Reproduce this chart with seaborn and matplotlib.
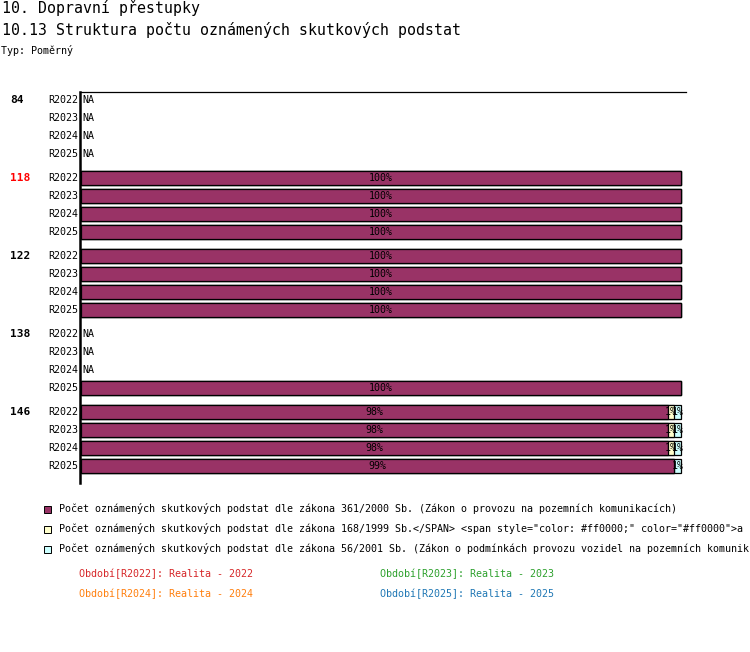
import numpy as np
import pandas as pd
import matplotlib
matplotlib.use("Agg")
import matplotlib.pyplot as plt
import seaborn as sns

sns.set_style("white")
plt.rcParams['font.family'] = ['DejaVu Sans Mono', 'DejaVu Sans']
plt.rcParams['text.color'] = 'black'

groups = ['84', '118', '122', '138', '146']
group_colors = ['black', '#ff0000', 'black', 'black', 'black']
periods = ['R2022', 'R2023', 'R2024', 'R2025']
nan = np.nan
# percent shares per group (rows) and period (cols)
seg1 = [[nan, nan, nan, nan],
        [100, 100, 100, 100],
        [100, 100, 100, 100],
        [nan, nan, nan, 100],
        [97.8, 97.8, 97.8, 98.8]]
seg2 = [[nan, nan, nan, nan],
        [0, 0, 0, 0],
        [0, 0, 0, 0],
        [nan, nan, nan, 0],
        [1.0, 1.0, 1.0, 0.0]]
seg3 = [[nan, nan, nan, nan],
        [0, 0, 0, 0],
        [0, 0, 0, 0],
        [nan, nan, nan, 0],
        [1.2, 1.2, 1.2, 1.2]]
series_names = [
    'Počet oznámených skutkových podstat dle zákona 361/2000 Sb. (Zákon o provozu na pozemních komunikacích)',
    'Počet oznámených skutkových podstat dle zákona 168/1999 Sb.</SPAN> <span style="color: #ff0000;" color="#ff0000">a',
    'Počet oznámených skutkových podstat dle zákona 56/2001 Sb. (Zákon o podmínkách provozu vozidel na pozemních komunik',
]
series_colors = ['#993366', '#ffffcc', '#ccffff']
period_legend = ['Období[R2022]: Realita - 2022', 'Období[R2023]: Realita - 2023',
                 'Období[R2024]: Realita - 2024', 'Období[R2025]: Realita - 2025']
period_colors = ['#d62728', '#2ca02c', '#ff7f0e', '#1f77b4']

W, H = 750, 652
fig = plt.figure(figsize=(W / 100, H / 100), dpi=100)

def px(x, y):
    return x / W, 1 - y / H

# axes: pixel 80..686 horizontally, 92..483 vertically
ax = fig.add_axes([80 / W, 1 - 483 / H, (686 - 80) / W, (483 - 92) / H])

rows = []
for g, grp in enumerate(groups):
    for p, per in enumerate(periods):
        ypos = 100 + g * 78 + p * 18
        rows.append(dict(group=grp, period=per, y=ypos,
                         s1=seg1[g][p], s2=seg2[g][p], s3=seg3[g][p]))
df = pd.DataFrame(rows)
df['c1'] = df['s1']
df['c2'] = df['s1'] + df['s2']
df['c3'] = df['s1'] + df['s2'] + df['s3']
valid = df.dropna(subset=['s1'])

for col, color in zip(['c3', 'c2', 'c1'], series_colors[::-1]):
    sns.barplot(data=valid, x=col, y='y', orient='y', native_scale=True,
                color=color, edgecolor='black', linewidth=0.9, width=0.78,
                errorbar=None, saturation=1, ax=ax)

ax.set_xlim(-1 / 6, (686 - 81) / 6)
ax.set_ylim(483, 92)
ax.set_xlabel('')
ax.set_ylabel('')
ax.set_xticks([])
ax.set_yticks([])
for s in ['right', 'bottom']:
    ax.spines[s].set_visible(False)
ax.spines['left'].set_linewidth(1.8)
ax.spines['top'].set_linewidth(0.9)
ax.spines['left'].set_color('black')
ax.spines['top'].set_color('black')

fs = 7.2
for _, r in df.iterrows():
    if np.isnan(r['s1']):
        ax.text(0.3, r['y'], 'NA', va='center', ha='left', fontsize=fs)
        continue
    left = 0
    for s in ['s1', 's2', 's3']:
        v = r[s]
        if v > 0:
            ax.text(left + v / 2, r['y'], f'{v:.0f}%', va='center', ha='center',
                    fontsize=fs, color='black')
        left += v

# row labels and group labels
for g, grp in enumerate(groups):
    for p, per in enumerate(periods):
        ypos = 100 + g * 78 + p * 18
        fig.text(*px(78, ypos), per, ha='right', va='center', fontsize=fs)
    fig.text(*px(10, 100 + g * 78), grp, ha='left', va='center', fontsize=8,
             fontweight='bold', color=group_colors[g])

# titles
fig.text(*px(2, 8), '10. Dopravní přestupky', ha='left', va='center', fontsize=10.7)
fig.text(*px(2, 30), '10.13 Struktura počtu oznámených skutkových podstat', ha='left',
         va='center', fontsize=10.7)
fig.text(*px(1, 50), 'Typ: Poměrný', ha='left', va='center', fontsize=fs)

# series legend
for i, (name, c) in enumerate(zip(series_names, series_colors)):
    yy = 509 + i * 20
    fig.patches.append(plt.Rectangle(px(44, yy + 4), 7 / W, 7 / H, transform=fig.transFigure,
                                     facecolor=c, edgecolor='black', linewidth=0.7))
    fig.text(*px(59, yy), name, ha='left', va='center', fontsize=fs)

# period legend
for i, (t, c) in enumerate(zip(period_legend, period_colors)):
    xx = 79 if i % 2 == 0 else 380
    yy = 574 + (i // 2) * 20
    fig.text(*px(xx, yy), t, ha='left', va='center', fontsize=fs, color=c)

fig.savefig('out.png', dpi=100)
